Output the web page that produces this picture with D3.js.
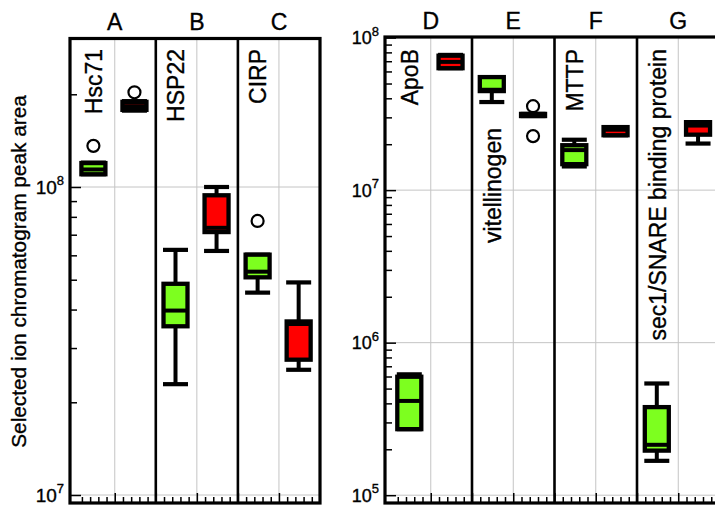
<!DOCTYPE html>
<html><head><meta charset="utf-8">
<script src="https://cdn.jsdelivr.net/npm/d3@7"></script>
<style>body{margin:0;background:#fff}svg{display:block}text{font-family:"Liberation Sans",Arial,sans-serif;stroke:#000;stroke-width:0.35px}</style>
</head><body><svg id="c" width="715" height="506"></svg>
<script>
// ---- data ----
const letters = ["A","B","C","D","E","F","G"];
const genes = ["Hsc71","HSP22","CIRP","ApoB","vitellinogen","MTTP","sec1/SNARE binding protein"];
const panelOf = [0,0,0,1,1,1,1];
// green (first) group
const gMin = [1.10e8, 2.29e7, 4.54e7, 2.71e5, 3.78e7, 1.43e7, 1.68e5];
const gQ1  = [1.10e8, 3.53e7, 5.09e7, 2.71e5, 4.46e7, 1.48e7, 1.96e5];
const gMed = [1.14e8, 3.97e7, 5.31e7, 4.15e5, 4.55e7, 1.83e7, 2.14e5];
const gQ3  = [1.196e8, 4.85e7, 6.03e7, 5.98e5, 5.51e7, 1.97e7, 3.78e5];
const gMax = [1.20e8, 6.25e7, 6.03e7, 6.2e5, 5.51e7, 2.14e7, 5.40e5];
const gOut = [[1.36e8], [], [7.76e7], [], [], [], []];
// red (second) group
const rMin = [1.77e8, 6.2e7, 2.55e7, 6.30e7, 3.06e7, 2.29e7, 2.02e7];
const rQ1  = [1.78e8, 7.14e7, 2.75e7, 6.30e7, 3.06e7, 2.29e7, 2.31e7];
const rMed = [1.83e8, 7.37e7, 3.59e7, 6.93e7, 3.11e7, 2.49e7, 2.65e7];
const rQ3  = [1.89e8, 9.4e7, 3.66e7, 7.61e7, 3.16e7, 2.59e7, 2.79e7];
const rMax = [1.90e8, 1.0e8, 4.90e7, 7.7e7, 3.16e7, 2.59e7, 2.79e7];
const rOut = [[2.03e8], [], [], [], [3.55e7, 2.26e7], [], []];
const groupColors = ["#7dff1f", "#ff0000"];
const yTitle = "Selected ion chromatogram peak area";
// ---- layout ----
const svg = d3.select("#c");
const panels = [
  {x: d3.scaleLinear().domain([0,6]).range([73.7,320]), y: d3.scaleLog().domain([1e7,1e8]).range([495,187]),
   left:70, right:320, top:38.5, bottom:503, decades:[1e7,1e8], minors:[], nSlots:6, fs:19, sfs:13},
  {x: d3.scaleLinear().domain([0,8]).range([389.5,719.5]), y: d3.scaleLog().domain([1e5,1e8]).range([495.2,37.6]),
   left:385, right:719.5, top:37, bottom:503, decades:[1e5,1e6,1e7,1e8], minors:[], nSlots:8, fs:18, sfs:13}
];
panels[0].minors = d3.range(7,9).flatMap(e => d3.range(2,10).map(m => m*Math.pow(10,e))).filter(v => v < 3e8);
panels[1].minors = d3.range(5,8).flatMap(e => d3.range(2,10).map(m => m*Math.pow(10,e)));

panels.forEach((p, pi) => {
  const g = svg.append("g");
  g.selectAll(".hg").data(p.decades).join("line")
    .attr("x1", p.left).attr("x2", p.right).attr("y1", d => p.y(d)).attr("y2", d => p.y(d))
    .attr("stroke", "#c4c4c4").attr("stroke-width", 1);
  const odd = d3.range(1, p.nSlots, 2), even = d3.range(2, p.nSlots, 2);
  g.selectAll(".vg").data(odd).join("line")
    .attr("x1", d => p.x(d)).attr("x2", d => p.x(d)).attr("y1", p.top).attr("y2", p.bottom)
    .attr("stroke", "#c4c4c4").attr("stroke-width", 1);
  const axMinor = d3.axisLeft(p.y).tickValues(p.minors).tickSize(-7).tickFormat("");
  const axMajor = d3.axisLeft(p.y).tickValues(p.decades).tickSize(-11).tickFormat("");
  [axMinor, axMajor].forEach(ax => {
    const a = g.append("g").attr("transform", `translate(${p.left},0)`).call(ax);
    a.select(".domain").remove();
    a.selectAll("line").attr("stroke", "#000").attr("stroke-width", 1.5);
  });
  const minorX = d3.range(0, p.nSlots * 5 + 1).map(i => i / 5).filter(v => v % 1 !== 0);
  const axBm = d3.axisBottom(p.x).tickValues(minorX).tickSize(-6).tickFormat("");
  const axBM = d3.axisBottom(p.x).tickValues(d3.range(1, p.nSlots)).tickSize(-10).tickFormat("");
  [axBm, axBM].forEach(ax => {
    const a = g.append("g").attr("transform", `translate(0,${p.bottom})`).call(ax);
    a.select(".domain").remove();
    a.selectAll("line").attr("stroke", "#000").attr("stroke-width", 1.5);
  });
  g.selectAll(".sep").data(even).join("line")
    .attr("x1", d => p.x(d)).attr("x2", d => p.x(d)).attr("y1", p.top).attr("y2", p.bottom)
    .attr("stroke", "#000").attr("stroke-width", 2.6);
  g.append("rect").attr("x", p.left).attr("y", p.top).attr("width", p.right - p.left).attr("height", p.bottom - p.top)
    .attr("fill", "none").attr("stroke", "#000").attr("stroke-width", 3.2);
  p.decades.forEach(d => {
    const t = svg.append("text").attr("x", p.left - 6).attr("y", p.y(d) + 6.5).attr("text-anchor", "end")
      .attr("font-size", p.fs).attr("fill", "#000");
    t.append("tspan").text("10");
    t.append("tspan").attr("font-size", p.sfs).attr("dy", -8.5).text(Math.round(Math.log10(d)));
  });
});

const boxW = 24, capW = 25;
genes.forEach((gene, i) => {
  const p = panels[panelOf[i]];
  const slot = (panelOf[i] === 0 ? i : i - 3) * 2;
  const lx = p.x(slot + 0.5);
  const ly = gene === "vitellinogen" ? 128 : 49;
  svg.append("text").attr("transform", `translate(${lx},${ly}) rotate(-90)`).attr("dy", "0.35em")
    .attr("text-anchor", "end").attr("font-size", 23).text(gene);
  svg.append("text").attr("x", p.x(slot + 1)).attr("y", panelOf[i] === 0 ? 30 : 29)
    .attr("text-anchor", "middle").attr("font-size", 23).text(letters[i]);
  const stats = [
    {min:gMin[i], q1:gQ1[i], med:gMed[i], q3:gQ3[i], max:gMax[i], out:gOut[i]},
    {min:rMin[i], q1:rQ1[i], med:rMed[i], q3:rQ3[i], max:rMax[i], out:rOut[i]}
  ];
  stats.forEach((s, k) => {
    const cx = p.x(slot + k + 0.48), y = p.y;
    const bg = svg.append("g");
    bg.append("line").attr("x1", cx).attr("x2", cx).attr("y1", y(s.max)).attr("y2", y(s.min))
      .attr("stroke", "#000").attr("stroke-width", 4);
    [s.max, s.min].forEach(v => bg.append("line").attr("x1", cx - capW/2).attr("x2", cx + capW/2)
      .attr("y1", y(v)).attr("y2", y(v)).attr("stroke", "#000").attr("stroke-width", 4.2));
    bg.append("rect").attr("x", cx - boxW/2).attr("width", boxW).attr("y", y(s.q3)).attr("height", y(s.q1) - y(s.q3))
      .attr("fill", groupColors[k]).attr("stroke", "#000").attr("stroke-width", 4.3);
    bg.append("line").attr("x1", cx - boxW/2).attr("x2", cx + boxW/2).attr("y1", y(s.med)).attr("y2", y(s.med))
      .attr("stroke", "#000").attr("stroke-width", 4);
    s.out.forEach(v => bg.append("circle").attr("cx", cx).attr("cy", y(v)).attr("r", 6)
      .attr("fill", "none").attr("stroke", "#000").attr("stroke-width", 2.2));
  });
});

svg.append("text").attr("transform", "translate(18.5,271.5) rotate(-90)").attr("dy", "0.35em")
  .attr("text-anchor", "middle").attr("font-size", 20.8).attr("stroke-width", 0.15).text(yTitle);
</script></body></html>
